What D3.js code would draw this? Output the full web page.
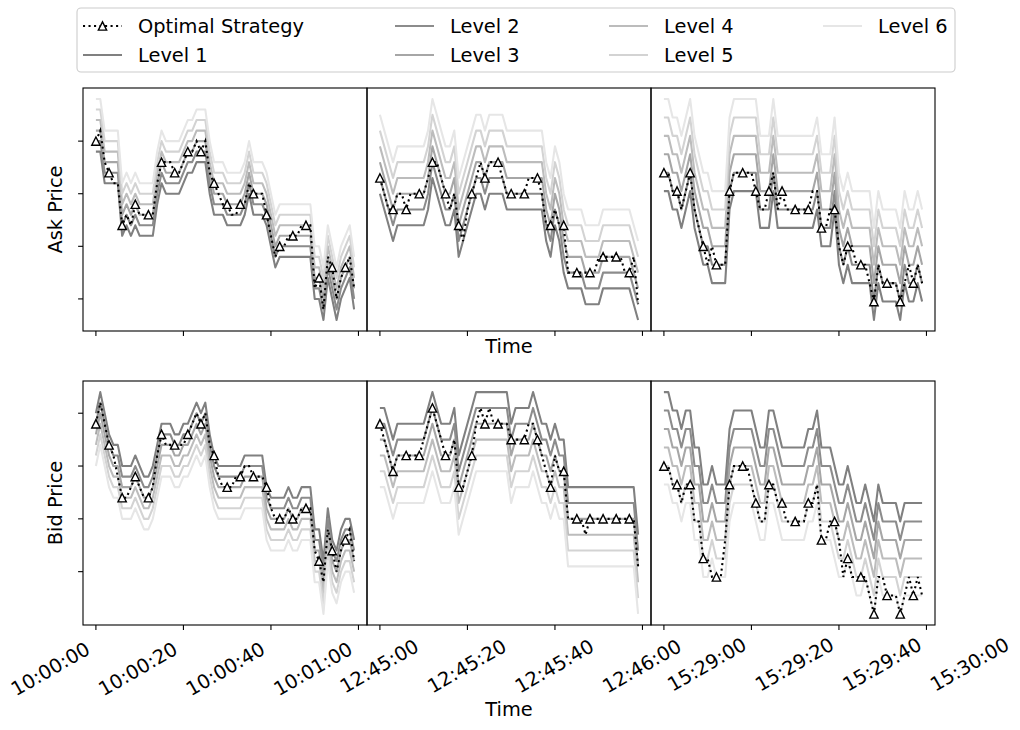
<!DOCTYPE html>
<html><head><meta charset="utf-8">
<script src="https://cdn.jsdelivr.net/npm/d3@7"></script>
<style>body{margin:0;background:#fff} text{font-family:"DejaVu Sans",sans-serif;fill:#000}</style>
</head><body><svg id="c" width="1020" height="730"></svg>
<script>
// ---------------- DATA (price in ticks, one point per second) ----------------
const seconds = d3.range(60);
const tickSeconds = [0, 20, 40, 60];
const tickLabels1000 = ["10:00:00", "10:00:20", "10:00:40", "10:01:00"];
const tickLabels1245 = ["12:45:00", "12:45:20", "12:45:40", "12:46:00"];
const tickLabels1529 = ["15:29:00", "15:29:20", "15:29:40", "15:30:00"];
const priceTicks = [5, 10, 15, 20];
const seriesNames = ["Optimal Strategy", "Level 1", "Level 2", "Level 3", "Level 4", "Level 5", "Level 6"];

// Ask 10:00
const ask1000Levels = [
 [19,19,16,16,16,16,11,12,11,12,11,11,11,11,14,16,15,15,15,15,16,17,17,18,18,18,15,13,13,13,12,12,12,12,13,15,13,13,13,12,10,8,9,9,9,9,9,9,9,9,5,5,3,7,5,3,5,6,7,4],
 [20,20,17,17,17,17,12,13,12,13,12,12,12,12,15,17,16,16,16,16,17,18,18,19,19,19,16,14,14,14,13,13,13,13,14,16,14,14,14,13,11,9,10,10,10,10,10,10,10,10,6,6,4,8,6,4,6,7,8,5],
 [21,21,18,18,18,18,13,14,13,14,13,13,13,13,16,18,17,17,17,17,18,19,19,20,20,20,17,15,15,15,14,14,14,14,15,17,15,15,15,14,12,10,11,11,11,11,11,11,11,11,7,7,5,9,7,5,7,8,9,6],
 [22,22,19,19,19,19,14,15,14,15,14,14,14,14,17,19,18,18,18,18,19,20,20,21,21,21,18,16,16,16,15,15,15,15,16,18,16,16,16,15,13,11,12,12,12,12,12,12,12,12,8,8,6,10,8,6,8,9,10,7],
 [23,23,20,20,20,20,15,16,15,16,15,15,15,15,18,20,19,19,19,19,20,21,21,22,22,22,19,17,17,17,16,16,16,16,17,19,17,17,17,16,14,12,13,13,13,13,13,13,13,13,9,9,7,11,9,7,9,10,11,8],
 [24,24,21,21,21,21,16,17,16,17,16,16,16,16,19,21,20,20,20,20,21,22,22,23,23,23,20,18,18,18,17,17,17,17,18,20,18,18,18,17,15,13,14,14,14,14,14,14,14,14,10,10,8,12,10,8,10,11,12,9]
];
const ask1000Opt = [20,21,18,17,16,16,12,13,12,14,13,13,13,13,16,18,18,18,17,17,18,19,19,20,19,20,17,16,15,14,14,13,13,14,14,16,15,15,15,13,11,9,10,10,11,11,11,12,12,12,6,7,4,9,8,5,7,8,9,6];

// Ask 12:45
const ask1245Levels = [
 [8,7,6,5,6,6,6,6,6,6,6,7,9,8,7,6,6,7,4,5,6,7,8,8,7,8,8,8,8,7,7,7,7,7,7,7,7,7,5,4,6,5,3,2,2,2,2,1,1,1,1,2,2,2,2,2,2,2,1,0],
 [9,8,7,6,7,7,7,7,7,7,7,8,10,9,8,7,7,8,5,6,7,8,9,9,8,9,9,9,9,8,8,8,8,8,8,8,8,8,6,5,7,6,4,3,3,3,3,2,2,2,2,3,3,3,3,3,3,3,2,1],
 [10,9,8,7,8,8,8,8,8,8,8,9,11,10,9,8,8,9,6,7,8,9,10,10,9,10,10,10,10,9,9,9,9,9,9,9,9,9,7,6,8,7,5,4,4,4,4,3,3,3,3,4,4,4,4,4,4,4,3,2],
 [11,10,9,8,9,9,9,9,9,9,9,10,12,11,10,9,9,10,7,8,9,10,11,11,10,11,11,11,11,10,10,10,10,10,10,10,10,10,8,7,9,8,6,5,5,5,5,4,4,4,4,5,5,5,5,5,5,5,4,3],
 [12,11,10,9,10,10,10,10,10,10,10,11,13,12,11,10,10,11,8,9,10,11,12,12,11,12,12,12,12,11,11,11,11,11,11,11,11,11,9,8,10,9,7,6,6,6,6,5,5,5,5,6,6,6,6,6,6,6,5,4],
 [13,12,11,10,11,11,11,11,11,11,11,12,14,13,12,11,11,12,9,10,11,12,13,13,12,13,13,13,13,12,12,12,12,12,12,12,12,12,10,9,11,10,8,7,7,7,7,6,6,6,6,7,7,7,7,7,7,7,6,5]
];
const ask1245Opt = [9,8,7,7,8,8,7,8,8,8,8,9,10,10,9,8,7,8,6,5,7,8,9,10,9,10,10,10,9,8,8,8,8,8,9,9,9,8,6,6,7,6,6,3,3,3,3,3,3,3,4,4,4,4,4,4,3,3,4,1];

// Ask 15:29
const ask1529Levels = [
 [8,8,7,7,6,7,8,6,5,4,4,3,3,3,3,7,8,8,8,8,8,8,6,6,6,8,6,6,6,6,6,6,6,6,6,7,5,5,5,7,4,3,4,3,3,3,3,3,1,3,2,2,2,2,1,3,2,2,3,2],
 [9,9,8,8,7,8,9,7,6,5,5,4,4,4,4,8,9,9,9,9,9,9,7,7,7,9,7,7,7,7,7,7,7,7,7,8,6,6,6,8,5,4,5,4,4,4,4,4,2,4,3,3,3,3,2,4,3,3,4,3],
 [10,10,9,9,8,9,10,8,7,6,6,5,5,5,5,9,10,10,10,10,10,10,8,8,8,10,8,8,8,8,8,8,8,8,8,9,7,7,7,9,6,5,6,5,5,5,5,5,3,5,4,4,4,4,3,5,4,4,5,4],
 [11,11,10,10,9,10,11,9,8,7,7,6,6,6,6,10,11,11,11,11,11,11,9,9,9,11,9,9,9,9,9,9,9,9,9,10,8,8,8,10,7,6,7,6,6,6,6,6,4,6,5,5,5,5,4,6,5,5,6,5],
 [12,12,11,11,10,11,12,10,9,8,8,7,7,7,7,11,12,12,12,12,12,12,10,10,10,12,10,10,10,10,10,10,10,10,10,11,9,9,9,11,8,7,8,7,7,7,7,7,5,7,6,6,6,6,5,7,6,6,7,6],
 [13,13,12,12,11,12,13,11,10,9,9,8,8,8,8,12,13,13,13,13,13,13,11,11,11,13,11,11,11,11,11,11,11,11,11,12,10,10,10,12,9,8,9,8,8,8,8,8,6,8,7,7,7,7,6,8,7,7,8,7]
];
const ask1529Opt = [9,9,8,8,7,8,9,7,6,5,4,5,4,4,4,8,9,9,9,9,9,8,7,7,8,9,7,8,7,7,7,7,7,7,8,8,6,6,7,7,5,4,5,5,4,4,4,3,2,4,3,3,3,3,2,3,4,3,4,3];

// Bid 10:00
const bid1000Levels = [
 [20,22,20,18,17,17,15,15,15,16,15,14,14,15,17,19,19,19,18,18,19,19,20,21,20,21,18,16,15,15,15,15,15,15,16,16,16,16,16,13,12,12,12,12,13,12,12,13,13,13,9,9,6,11,8,7,9,10,10,8],
 [19,21,19,17,16,16,14,14,14,15,14,13,13,14,16,18,18,18,17,17,18,18,19,20,19,20,17,15,14,14,14,14,14,14,15,15,15,15,15,12,11,11,11,11,12,11,11,12,12,12,8,8,5,10,7,6,8,9,9,7],
 [18,20,18,16,15,15,13,13,13,14,13,12,12,13,15,17,17,17,16,16,17,17,18,19,18,19,16,14,13,13,13,13,13,13,14,14,14,14,14,11,10,10,10,10,11,10,10,11,11,11,7,7,4,9,6,5,7,8,8,6],
 [17,19,17,15,14,14,12,12,12,13,12,11,11,12,14,16,16,16,15,15,16,16,17,18,17,18,15,13,12,12,12,12,12,12,13,13,13,13,13,10,9,9,9,9,10,9,9,10,10,10,6,6,3,8,5,4,6,7,7,5],
 [16,18,16,14,13,13,11,11,11,12,11,10,10,11,13,15,15,15,14,14,15,15,16,17,16,17,14,12,11,11,11,11,11,11,12,12,12,12,12,9,8,8,8,8,9,8,8,9,9,9,5,5,2,7,4,3,5,6,6,4],
 [15,17,15,13,12,12,10,10,10,11,10,9,9,10,12,14,14,14,13,13,14,14,15,16,15,16,13,11,10,10,10,10,10,10,11,11,11,11,11,8,7,7,7,7,8,7,7,8,8,8,4,4,1,6,3,2,4,5,5,3]
];
const bid1000Opt = [19,21,19,17,16,14,12,12,13,14,13,12,12,13,16,18,17,17,17,17,17,18,19,20,19,20,17,16,14,13,13,13,14,14,15,15,14,14,14,13,11,10,10,10,11,10,10,11,11,11,7,6,4,9,7,5,7,8,9,6];

// Bid 12:45
const bid1245Levels = [
 [13,13,12,11,12,12,12,12,12,12,12,13,14,13,12,12,12,13,10,11,12,13,14,14,14,14,14,14,14,14,12,13,13,13,13,14,13,12,12,11,12,11,11,8,8,8,8,8,8,8,8,8,8,8,8,8,8,8,8,5],
 [12,12,11,10,11,11,11,11,11,11,11,12,13,12,11,11,11,12,9,10,11,12,13,13,13,13,13,13,13,13,11,12,12,12,12,13,12,11,11,10,11,10,10,7,7,7,7,7,7,7,7,7,7,7,7,7,7,7,7,4],
 [11,11,10,9,10,10,10,10,10,10,10,11,12,11,10,10,10,11,8,9,10,11,12,12,12,12,12,12,12,12,10,11,11,11,11,12,11,10,10,9,10,9,9,6,6,6,6,6,6,6,6,6,6,6,6,6,6,6,6,3],
 [10,10,9,8,9,9,9,9,9,9,9,10,11,10,9,9,9,10,7,8,9,10,11,11,11,11,11,11,11,11,9,10,10,10,10,11,10,9,9,8,9,8,8,5,5,5,5,5,5,5,5,5,5,5,5,5,5,5,5,2],
 [9,9,8,7,8,8,8,8,8,8,8,9,10,9,8,8,8,9,6,7,8,9,10,10,10,10,10,10,10,10,8,9,9,9,9,10,9,8,8,7,8,7,7,4,4,4,4,4,4,4,4,4,4,4,4,4,4,4,4,1],
 [8,8,7,6,7,7,7,7,7,7,7,8,9,8,7,7,7,8,5,6,7,8,9,9,9,9,9,9,9,9,7,8,8,8,8,9,8,7,7,6,7,6,6,3,3,3,3,3,3,3,3,3,3,3,3,3,3,3,3,0]
];
const bid1245Opt = [12,11,10,9,10,10,10,10,10,10,11,12,13,12,11,10,10,11,8,8,9,10,12,13,12,13,12,12,12,12,11,11,11,11,12,12,11,10,9,8,10,9,9,6,6,6,6,5,6,6,6,6,6,6,6,6,6,6,6,3];

// Bid 15:29
const bid1529Levels = [
 [13,13,12,12,11,12,12,10,10,8,8,9,8,8,8,11,12,12,12,12,12,11,10,10,12,12,11,10,10,10,10,10,10,11,11,12,10,10,10,9,8,8,9,8,7,7,8,7,6,8,7,7,7,7,6,7,7,7,7,7],
 [12,12,11,11,10,11,11,9,9,7,7,8,7,7,7,10,11,11,11,11,11,10,9,9,11,11,10,9,9,9,9,9,9,10,10,11,9,9,9,8,7,7,8,7,6,6,7,6,5,7,6,6,6,6,5,6,6,6,6,6],
 [11,11,10,10,9,10,10,8,8,6,6,7,6,6,6,9,10,10,10,10,10,9,8,8,10,10,9,8,8,8,8,8,8,9,9,10,8,8,8,7,6,6,7,6,5,5,6,5,4,6,5,5,5,5,4,5,5,5,5,5],
 [10,10,9,9,8,9,9,7,7,5,5,6,5,5,5,8,9,9,9,9,9,8,7,7,9,9,8,7,7,7,7,7,7,8,8,9,7,7,7,6,5,5,6,5,4,4,5,4,3,5,4,4,4,4,3,4,4,4,4,4],
 [9,9,8,8,7,8,8,6,6,4,4,5,4,4,4,7,8,8,8,8,8,7,6,6,8,8,7,6,6,6,6,6,6,7,7,8,6,6,6,5,4,4,5,4,3,3,4,3,2,4,3,3,3,3,2,3,3,3,3,3],
 [8,8,7,7,6,7,7,5,5,3,3,4,3,3,3,6,7,7,7,7,7,6,5,5,7,7,6,5,5,5,5,5,5,6,6,7,5,5,5,4,3,3,4,3,2,2,3,2,1,3,2,2,2,2,1,2,2,2,2,2]
];
const bid1529Opt = [9,9,8,8,7,8,8,6,6,4,4,3,3,3,5,8,9,9,9,9,8,7,6,6,8,8,7,7,6,6,6,6,6,7,7,8,5,5,6,6,5,3,4,3,3,3,3,2,1,3,3,2,2,2,1,2,3,2,3,2];

// ---------------- STYLE / LAYOUT ----------------
const levelColors = ["#808080", "#8c8c8c", "#a6a6a6", "#bcbcbc", "#d3d3d3", "#e6e6e6"];
const colX = [[83, 367], [367, 651], [651, 935]];
const rowY = [[88, 331], [381, 625]];
const FS = 19.4;

const panels = [
  {row: 0, col: 0, levels: ask1000Levels, opt: ask1000Opt, labels: tickLabels1000},
  {row: 0, col: 1, levels: ask1245Levels, opt: ask1245Opt, labels: tickLabels1245},
  {row: 0, col: 2, levels: ask1529Levels, opt: ask1529Opt, labels: tickLabels1529},
  {row: 1, col: 0, levels: bid1000Levels, opt: bid1000Opt, labels: tickLabels1000},
  {row: 1, col: 1, levels: bid1245Levels, opt: bid1245Opt, labels: tickLabels1245},
  {row: 1, col: 2, levels: bid1529Levels, opt: bid1529Opt, labels: tickLabels1529}
];

const svg = d3.select("#c");
svg.append("rect").attr("width", 1020).attr("height", 730).attr("fill", "#fff");

const triPath = (s) => `M0,${-s}L${-s},${s}L${s},${s}Z`;

panels.forEach((p, pi) => {
  const [x0, x1] = colX[p.col];
  const [y0, y1] = rowY[p.row];
  const x = d3.scaleLinear().domain([-2.95, 61.95]).range([x0, x1]);
  const all = p.levels.flat().concat(p.opt);
  const mn = d3.min(all), mx = d3.max(all), pad = (mx - mn) * 0.05;
  const y = d3.scaleLinear().domain([mn - pad, mx + pad]).range([y1, y0]);

  const clipId = "clip" + pi;
  svg.append("clipPath").attr("id", clipId).append("rect")
    .attr("x", x0).attr("y", y0).attr("width", x1 - x0).attr("height", y1 - y0);
  const g = svg.append("g").attr("clip-path", `url(#${clipId})`);
  const line = d3.line().x((d, i) => x(seconds[i])).y(d => y(d));

  p.levels.forEach((lv, k) => {
    g.append("path").datum(lv).attr("d", line).attr("fill", "none")
      .attr("stroke", levelColors[k]).attr("stroke-width", 2.08).attr("stroke-linejoin", "round");
  });
  g.append("path").datum(p.opt).attr("d", line).attr("fill", "none")
    .attr("stroke", "#000").attr("stroke-width", 2.08).attr("stroke-dasharray", "2.08,3.43");
  g.selectAll("path.mk").data(p.opt.map((v, i) => [seconds[i], v]).filter((d, i) => i % 3 === 0))
    .enter().append("path").attr("class", "mk")
    .attr("d", triPath(4.17)).attr("transform", d => `translate(${x(d[0])},${y(d[1])})`)
    .attr("fill", "#fff").attr("stroke", "#000").attr("stroke-width", 1.39);

  // frame
  svg.append("rect").attr("x", x0).attr("y", y0).attr("width", x1 - x0).attr("height", y1 - y0)
    .attr("fill", "none").attr("stroke", "#000").attr("stroke-width", 1.1);

  // x ticks
  tickSeconds.forEach((t, i) => {
    const tx = x(t);
    svg.append("line").attr("x1", tx).attr("x2", tx).attr("y1", y1).attr("y2", y1 + 4.9)
      .attr("stroke", "#000").attr("stroke-width", 1.1);
    if (p.row === 1) {
      let ax, ay, anchor;
      if (p.col === 0) { ax = tx - 4.4; ay = 653; anchor = "end"; }
      else if (p.col === 1) { ax = tx + 2.7; ay = 672; anchor = "middle"; }
      else { ax = tx + 8.7; ay = 692; anchor = "start"; }
      svg.append("text").attr("x", ax).attr("y", ay).attr("text-anchor", anchor)
        .attr("font-size", FS).attr("transform", `rotate(-30,${ax},${ay})`).text(p.labels[i]);
    }
  });
  // y ticks only in first column
  if (p.col === 0) {
    priceTicks.forEach(v => {
      const ty = y(v);
      svg.append("line").attr("x1", x0 - 4.9).attr("x2", x0).attr("y1", ty).attr("y2", ty)
        .attr("stroke", "#000").attr("stroke-width", 1.1);
    });
  }
});

// axis titles
svg.append("text").attr("x", 509).attr("y", 353).attr("text-anchor", "middle").attr("font-size", FS).text("Time");
svg.append("text").attr("x", 509).attr("y", 716).attr("text-anchor", "middle").attr("font-size", FS).text("Time");
svg.append("text").attr("transform", "translate(62,209.5) rotate(-90)").attr("text-anchor", "middle").attr("font-size", FS).text("Ask Price");
svg.append("text").attr("transform", "translate(62,503) rotate(-90)").attr("text-anchor", "middle").attr("font-size", FS).text("Bid Price");

// legend
const lg = svg.append("g");
lg.append("rect").attr("x", 77).attr("y", 8).attr("width", 878).attr("height", 64).attr("rx", 4)
  .attr("fill", "#fff").attr("stroke", "#cccccc").attr("stroke-width", 1.1);
const legCols = [83, 395, 609, 823];
const legRows = [26, 55];
seriesNames.forEach((name, i) => {
  const cx = legCols[Math.floor(i / 2)], cy = legRows[i % 2];
  if (i === 0) {
    lg.append("line").attr("x1", cx).attr("x2", cx + 39).attr("y1", cy).attr("y2", cy)
      .attr("stroke", "#000").attr("stroke-width", 2.08).attr("stroke-dasharray", "2.08,3.43");
    lg.append("path").attr("d", triPath(4.17)).attr("transform", `translate(${cx + 19.5},${cy})`)
      .attr("fill", "#fff").attr("stroke", "#000").attr("stroke-width", 1.39);
  } else {
    lg.append("line").attr("x1", cx).attr("x2", cx + 39).attr("y1", cy).attr("y2", cy)
      .attr("stroke", levelColors[i - 1]).attr("stroke-width", 2.08);
  }
  lg.append("text").attr("x", cx + 55).attr("y", cy + 6.8).attr("font-size", FS).text(name);
});
</script></body></html>
